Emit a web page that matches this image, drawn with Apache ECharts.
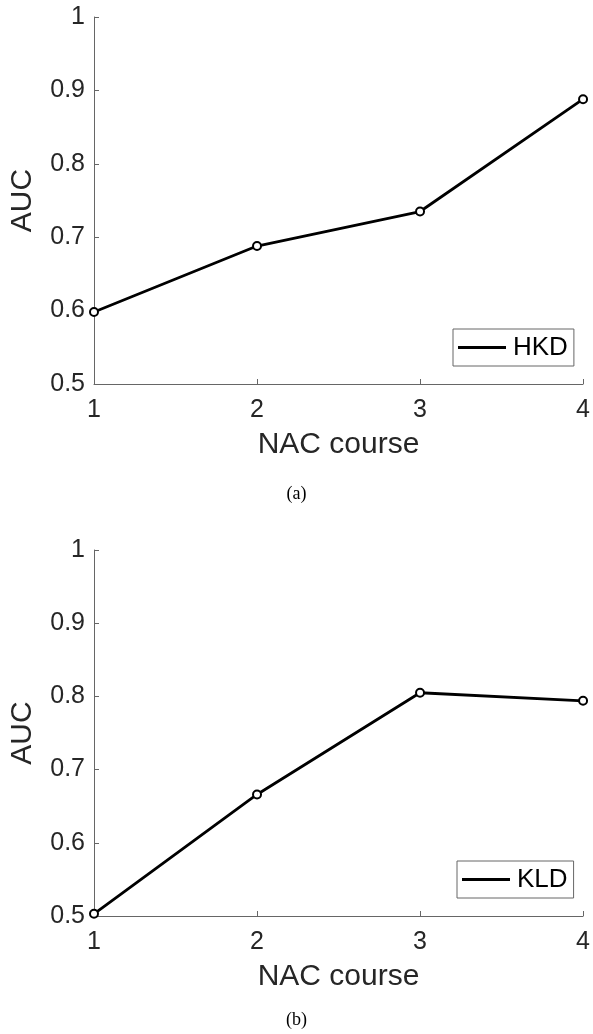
<!DOCTYPE html>
<html>
<head>
<meta charset="utf-8">
<script src="https://cdn.jsdelivr.net/npm/echarts@6/dist/echarts.min.js"></script>
<style>html,body{margin:0;padding:0;background:#fff}#c{width:593px;height:1034px}</style>
</head>
<body>
<div id="c"></div>
<script>
const courses = [1, 2, 3, 4];
const hkdAUC = [0.598, 0.688, 0.735, 0.888];
const kldAUC = [0.503, 0.666, 0.805, 0.794];
const yTicks = [0.5, 0.6, 0.7, 0.8, 0.9, 1];
const seriesNames = ['HKD', 'KLD'];
const captions = ['(a)', '(b)'];
const xName = 'NAC course';
const yName = 'AUC';

const FONT = 'Liberation Sans, Arial, Helvetica, sans-serif';
const axisColor = '#666';
const textColor = '#262626';

function xAxis(gi) {
  return {
    type: 'value', gridIndex: gi, min: 1, max: 4, interval: 1,
    name: xName, nameLocation: 'middle', nameGap: 46,
    nameTextStyle: { fontFamily: FONT, fontSize: 30, color: textColor },
    axisLine: { show: true, onZero: false, lineStyle: { color: axisColor, width: 1 } },
    axisTick: { show: true, inside: true, length: 5, lineStyle: { color: axisColor } },
    axisLabel: { fontFamily: FONT, fontSize: 25, color: textColor, margin: 14 },
    splitLine: { show: false }
  };
}
function yAxis(gi) {
  return {
    type: 'value', gridIndex: gi, min: yTicks[0], max: yTicks[yTicks.length - 1], interval: 0.1,
    name: yName, nameLocation: 'middle', nameGap: 56,
    nameTextStyle: { fontFamily: FONT, fontSize: 30, color: textColor },
    axisLine: { show: true, onZero: false, lineStyle: { color: axisColor, width: 1 } },
    axisTick: { show: true, inside: true, length: 5, lineStyle: { color: axisColor } },
    axisLabel: { fontFamily: FONT, fontSize: 25, color: textColor, margin: 9,
      formatter: v => String(Math.round(v * 10) / 10) },
    splitLine: { show: false }
  };
}
function legend(name, left, top) {
  return {
    data: [{ name: name, icon: 'rect', itemStyle: { color: '#000', borderWidth: 0 } }],
    left: left, top: top, orient: 'horizontal',
    backgroundColor: '#fff', borderColor: '#666', borderWidth: 1,
    padding: [5, 6, 5, 5], itemWidth: 48, itemHeight: 3, itemGap: 0,
    itemStyle: { color: '#000', borderWidth: 0 },
    textStyle: { fontFamily: FONT, fontSize: 26, color: '#000', lineHeight: 27, padding: [0, 0, 0, 2] },
    selectedMode: false
  };
}
function series(name, data, gi) {
  return {
    name: name, type: 'line', xAxisIndex: gi, yAxisIndex: gi,
    data: courses.map((c, i) => [c, data[i]]),
    symbol: 'circle', symbolSize: 8, showSymbol: true,
    lineStyle: { color: '#000', width: 2.8 },
    itemStyle: { color: '#fff', borderColor: '#000', borderWidth: 2 },
    color: '#000', animation: false, z: 3
  };
}

const chart = echarts.init(document.getElementById('c'), null, { renderer: 'canvas' });
chart.setOption({
  animation: false,
  backgroundColor: '#fff',
  title: [
    { text: captions[0], left: 'center', top: 480, textStyle: { fontFamily: 'Liberation Serif, Times New Roman, serif', fontSize: 18, fontWeight: 'normal', color: '#000' } },
    { text: captions[1], left: 'center', top: 1006, textStyle: { fontFamily: 'Liberation Serif, Times New Roman, serif', fontSize: 18, fontWeight: 'normal', color: '#000' } }
  ],
  grid: [
    { left: 91, top: 17, width: 495, height: 367, containLabel: false },
    { left: 91, top: 550, width: 495, height: 366, containLabel: false }
  ],
  xAxis: [xAxis(0), xAxis(1)],
  yAxis: [yAxis(0), yAxis(1)],
  legend: [legend(seriesNames[0], 453, 329), legend(seriesNames[1], 457, 861)],
  series: [series(seriesNames[0], hkdAUC, 0), series(seriesNames[1], kldAUC, 1)]
});
</script>
</body>
</html>
